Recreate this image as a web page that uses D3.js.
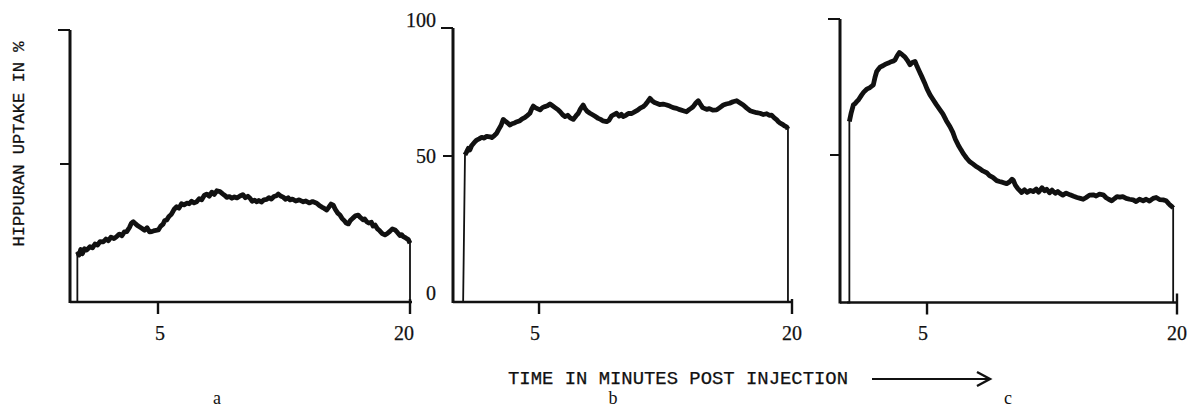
<!DOCTYPE html>
<html><head><meta charset="utf-8">
<script src="https://cdn.jsdelivr.net/npm/d3@7"></script>
<style>html,body{margin:0;padding:0;background:#fff;}svg{display:block;}</style>
</head><body>
<svg id="c" width="1191" height="408"></svg>
<script>
// ---- data (minutes post injection, hippuran uptake in %) ----
const timeA = [0.20,0.20,0.30,0.40,0.50,0.62,0.75,0.95,1.10,1.25,1.40,1.55,1.74,1.90,2.05,2.20,2.38,2.54,2.70,2.85,3.00,3.14,3.30,3.42,3.53,3.65,3.80,4.03,4.20,4.35,4.50,4.63,4.80,5.02,5.15,5.30,5.40,5.52,5.65,5.80,5.95,6.11,6.25,6.40,6.55,6.71,6.85,7.00,7.15,7.30,7.45,7.60,7.75,7.90,8.05,8.20,8.35,8.50,8.69,8.85,9.00,9.09,9.25,9.40,9.55,9.70,9.88,10.05,10.20,10.35,10.48,10.60,10.75,10.88,11.00,11.15,11.30,11.47,11.60,11.75,11.90,12.05,12.16,12.30,12.45,12.60,12.75,12.86,13.00,13.20,13.40,13.65,13.80,14.00,14.20,14.45,14.60,14.75,14.90,15.04,15.15,15.30,15.43,15.55,15.70,15.83,15.95,16.10,16.20,16.33,16.45,16.60,16.75,16.92,17.05,17.20,17.30,17.42,17.55,17.70,17.80,17.92,18.05,18.20,18.35,18.51,18.65,18.80,18.95,19.11,19.25,19.40,19.50,19.60,19.75,19.90,20.0,20.0];
const uptakeA = [0,18.2,17.0,19.0,17.5,19.3,18.8,20.0,19.6,21.0,20.6,21.9,21.8,22.8,22.2,23.5,23.0,23.7,24.6,24.0,25.4,25.5,27.0,28.6,29.1,28.4,27.6,26.7,26.0,26.9,25.4,25.5,25.9,26.1,27.4,28.2,29.5,29.7,31.0,31.8,33.5,34.5,34.0,35.6,35.2,35.8,35.6,36.5,35.9,36.3,37.4,37.0,38.6,39.1,38.3,39.8,39.0,40.3,40.0,39.2,38.5,37.9,38.2,37.6,38.1,37.7,38.4,38.9,37.8,38.3,37.6,36.5,36.9,36.3,36.8,36.2,37.0,37.2,37.8,37.3,38.2,38.5,39.1,38.4,38.0,37.2,37.8,37.0,37.3,36.6,37.0,36.3,36.6,35.9,36.4,35.8,35.0,34.4,33.9,33.3,34.2,35.5,35.1,33.6,32.2,31.5,30.3,29.4,28.6,28.3,29.5,30.4,31.2,31.5,30.6,29.8,30.1,29.1,28.6,28.9,27.5,27.9,26.6,25.8,24.8,24.3,24.8,25.6,26.5,26.1,25.2,24.1,24.4,23.7,23.2,22.6,21.3,0];
const timeB = [0.10,0.50,0.61,0.70,0.81,0.90,1.00,1.10,1.20,1.30,1.45,1.60,1.75,1.90,2.09,2.20,2.35,2.49,2.60,2.75,2.88,3.00,3.15,3.28,3.40,3.55,3.70,3.87,4.00,4.15,4.30,4.46,4.56,4.66,4.80,4.93,5.06,5.20,5.35,5.50,5.65,5.80,5.95,6.14,6.25,6.40,6.54,6.70,6.85,7.03,7.13,7.23,7.33,7.45,7.55,7.62,7.72,7.85,8.02,8.15,8.30,8.51,8.65,8.80,9.01,9.15,9.30,9.45,9.60,9.75,9.88,9.99,10.15,10.30,10.50,10.69,10.85,11.00,11.18,11.30,11.45,11.58,11.70,11.85,11.97,12.15,12.35,12.57,12.75,12.95,13.16,13.35,13.55,13.75,13.90,14.05,14.14,14.30,14.44,14.55,14.70,14.94,15.10,15.30,15.53,15.70,15.93,16.10,16.30,16.50,16.72,16.90,17.11,17.30,17.51,17.70,17.90,18.10,18.30,18.50,18.65,18.79,18.95,19.10,19.19,19.30,19.45,19.55,19.68,19.76,19.76];
const uptakeB = [0,0,50.4,51.5,53.0,52.4,54.0,54.8,55.6,56.2,56.7,57.3,57.0,57.7,57.5,57.2,58.0,58.9,60.3,62.0,64.3,63.6,62.8,62.1,62.6,62.9,63.4,63.8,64.5,65.0,65.8,66.7,68.3,69.5,68.8,68.4,68.0,68.9,69.3,69.6,70.3,69.6,68.9,68.0,67.3,66.1,65.4,65.9,64.9,64.3,65.1,66.0,66.7,68.3,69.3,69.9,68.6,67.5,66.7,66.2,65.6,64.7,64.3,63.7,63.4,64.0,65.6,66.2,66.7,65.6,66.3,65.4,65.9,66.6,66.6,67.3,67.9,68.7,69.3,70.0,71.3,72.5,71.6,70.9,70.6,70.1,70.3,69.9,69.5,68.9,68.6,68.1,67.7,67.3,68.1,68.8,69.3,70.7,71.6,70.4,68.9,68.2,68.5,67.9,68.0,68.8,69.9,70.3,70.6,71.2,71.6,70.8,69.9,68.8,67.7,67.3,66.9,66.7,66.2,66.5,65.9,66.0,64.9,64.1,63.4,62.8,62.3,61.8,61.4,60.5,0];
const timeC = [0.20,0.34,0.34,0.45,0.58,0.68,0.78,0.90,1.08,1.20,1.38,1.55,1.70,1.78,1.88,1.98,2.08,2.18,2.35,2.50,2.68,2.85,3.00,3.08,3.20,3.34,3.45,3.58,3.68,3.82,3.98,4.12,4.28,4.40,4.55,4.68,4.85,5.00,5.18,5.35,5.55,5.78,5.95,6.15,6.38,6.55,6.70,6.87,7.05,7.20,7.38,7.55,7.75,7.98,8.15,8.35,8.58,8.75,8.95,9.18,9.35,9.55,9.78,9.95,10.10,10.17,10.30,10.45,10.68,10.85,11.00,11.20,11.37,11.55,11.70,11.90,12.05,12.18,12.35,12.50,12.70,12.85,12.98,13.15,13.35,13.58,13.80,14.00,14.20,14.37,14.55,14.75,14.97,15.15,15.35,15.57,15.75,15.90,16.08,16.25,16.40,16.57,16.75,16.95,17.15,17.37,17.55,17.75,17.97,18.15,18.35,18.57,18.75,18.95,19.17,19.35,19.50,19.57,19.70,19.77,19.77];
const uptakeC = [0,0,62.3,65.5,68.4,68.9,69.6,70.4,72.1,73.1,74.2,74.7,75.4,75.8,78.6,80.7,81.5,82.3,82.8,83.4,83.8,84.3,84.6,85.0,86.4,87.7,87.2,86.5,86.0,84.8,83.2,84.0,84.4,82.6,80.6,78.9,76.6,74.3,72.1,70.5,68.6,66.6,65.1,62.7,60.4,58.3,55.8,53.7,51.8,50.3,48.9,47.8,47.0,46.0,45.4,44.6,44.0,43.0,42.4,41.3,41.0,40.7,40.3,40.9,41.8,41.5,39.8,38.6,37.3,38.2,37.3,38.0,37.6,38.5,37.4,38.9,37.9,38.4,37.2,38.1,37.0,37.6,37.0,36.4,37.1,36.5,36.0,35.6,35.3,35.0,35.6,36.4,36.5,36.1,36.7,36.5,35.5,35.0,34.5,35.2,35.9,35.7,35.9,35.3,35.0,34.8,34.2,35.0,34.5,35.0,34.4,35.3,35.6,34.9,34.8,34.5,33.5,33.1,32.5,32.0,0];
const xTicks = [5, 20];
const yTicks = [50, 100];
const yTickLabels = ["0", "50", "100"];
const panelLabels = ["a", "b", "c"];
const yTitle = "HIPPURAN UPTAKE IN %";
const xTitle = "TIME IN MINUTES POST INJECTION";

// ---- layout ----
const svg = d3.select("#c");
const panels = [
  {t: timeA, v: uptakeA, xr: [74, 410], yr: [302, 164, 30], axisX: 70, xEnd: 412, label: panelLabels[0], labelX: 217, off5: 2},
  {t: timeB, v: uptakeB, xr: [454.7, 792], yr: [302, 156, 28], axisX: 453, xEnd: 793, label: panelLabels[1], labelX: 613, off5: -4},
  {t: timeC, v: uptakeC, xr: [843.7, 1177], yr: [302.5, 155, 19], axisX: 840, xEnd: 1178, label: panelLabels[2], labelX: 1008, off5: -4}
];
const serif = "'Liberation Serif','Times New Roman',serif";
const mono = "'Liberation Mono','Courier New',monospace";

panels.forEach((p, i) => {
  const x = d3.scaleLinear().domain([0, 20]).range(p.xr);
  const y = d3.scaleLinear().domain([0, 50, 100]).range(p.yr);
  const g = svg.append("g");
  const base = y(0);
  // y axis
  g.append("line").attr("x1", p.axisX).attr("x2", p.axisX).attr("y1", y(100)).attr("y2", base + 1)
    .attr("stroke", "#111").attr("stroke-width", 3);
  yTicks.forEach(v => {
    g.append("line").attr("x1", p.axisX - (v === 100 ? 12 : 10)).attr("x2", p.axisX).attr("y1", y(v)).attr("y2", y(v))
      .attr("stroke", "#111").attr("stroke-width", 2);
  });
  // x axis
  g.append("line").attr("x1", p.axisX).attr("x2", p.xEnd).attr("y1", base).attr("y2", base)
    .attr("stroke", "#111").attr("stroke-width", 2.6);
  xTicks.forEach(t => {
    g.append("line").attr("x1", x(t)).attr("x2", x(t)).attr("y1", t === 20 ? base - (i === 2 ? 9 : 3) : base).attr("y2", base + 12)
      .attr("stroke", "#111").attr("stroke-width", 2.4);
    g.append("text").attr("x", x(t) + (t === 5 ? p.off5 : (i === 0 ? -6 : 0))).attr("y", 340)
      .attr("text-anchor", "middle").attr("font-family", serif).attr("font-size", 20).attr("fill", "#111")
      .attr("stroke", "#111").attr("stroke-width", 0.25)
      .text(t);
  });
  // panel letter
  g.append("text").attr("x", p.labelX).attr("y", 404).attr("text-anchor", "middle")
    .attr("font-family", serif).attr("font-size", 18).attr("fill", "#111").text(p.label);

  const pts = p.t.map((t, k) => [t, p.v[k]]);
  const line = d3.line().x(d => x(d[0])).y(d => y(d[1]));
  // thin full trace (including fast rise and fall)
  g.append("path").attr("d", line(pts)).attr("fill", "none").attr("stroke", "#111").attr("stroke-width", 1.8);
  // thick recorded portion
  const thick = pts.filter(d => d[1] > 0);
  g.append("path").attr("d", line(thick)).attr("fill", "none").attr("stroke", "#111")
    .attr("stroke-width", 4.8).attr("stroke-linejoin", "round").attr("stroke-linecap", "butt");

  // y tick labels only on panel b
  if (i === 1) {
    const lab = [[0, 300], [50, 163], [100, 27]];
    lab.forEach(([v, yy], k) => {
      g.append("text").attr("x", 436).attr("y", yy).attr("text-anchor", "end")
        .attr("font-family", serif).attr("font-size", 20).attr("fill", "#111")
        .attr("stroke", "#111").attr("stroke-width", 0.25).text(yTickLabels[k]);
    });
  }
});

// y title
svg.append("text").attr("transform", "translate(24,144) rotate(-90)").attr("text-anchor", "middle")
  .attr("font-family", mono).attr("font-size", 17).attr("fill", "#111").attr("stroke", "#111").attr("stroke-width", 0.25)
  .attr("textLength", 205).attr("lengthAdjust", "spacingAndGlyphs").text(yTitle);

// x title with arrow
svg.append("text").attr("x", 508).attr("y", 384).attr("font-family", mono).attr("font-size", 17.5).attr("fill", "#111")
  .attr("stroke", "#111").attr("stroke-width", 0.25)
  .attr("textLength", 340).attr("lengthAdjust", "spacingAndGlyphs").text(xTitle);
svg.append("line").attr("x1", 872).attr("x2", 988).attr("y1", 379).attr("y2", 379).attr("stroke", "#111").attr("stroke-width", 1.8);
svg.append("path").attr("d", "M977,372 L990,379 L977,386").attr("fill", "none").attr("stroke", "#111").attr("stroke-width", 2.4);
</script>
</body></html>
